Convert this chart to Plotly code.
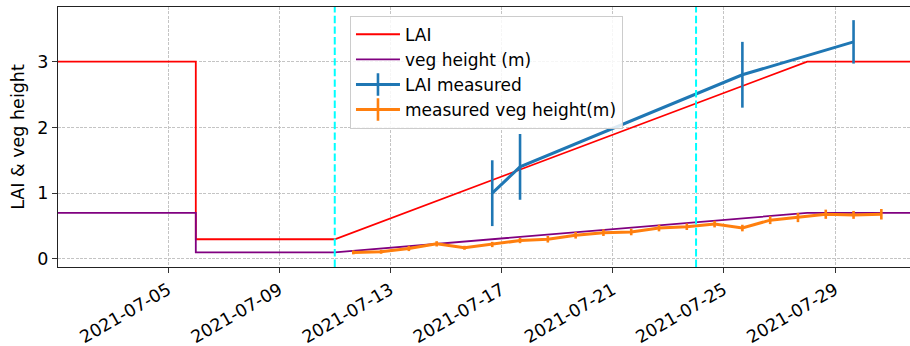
import plotly.graph_objects as go

# Modelled LAI and vegetation height (breakpoints of the hourly series)
model_dates = ["2021-07-01 01:00", "2021-07-06 00:00", "2021-07-06 00:00",
               "2021-07-11 00:00", "2021-07-28 00:00", "2021-07-31 23:00"]
lai_model = [3.0, 3.0, 0.3, 0.3, 3.0, 3.0]
veg_height_model = [0.7, 0.7, 0.1, 0.1, 0.7, 0.7]

# Field measurements of LAI
lai_dates = ["2021-07-16 16:00", "2021-07-17 16:00", "2021-07-25 16:00", "2021-07-29 16:00"]
lai_measured = [1.0, 1.4, 2.8, 3.3]
lai_err = [0.5, 0.5, 0.5, 0.33]

# Daily measured vegetation height (m)
veg_dates = ["2021-07-%02d 16:00" % d for d in range(11, 31)]
veg_measured = [0.10, 0.11, 0.16, 0.23, 0.17, 0.22, 0.28, 0.30, 0.36, 0.40,
                0.41, 0.47, 0.49, 0.53, 0.47, 0.59, 0.63, 0.68, 0.67, 0.68]
veg_err = [0.03, 0.03, 0.04, 0.04, 0.03, 0.04, 0.04, 0.05, 0.05, 0.05,
           0.05, 0.05, 0.05, 0.05, 0.05, 0.06, 0.07, 0.07, 0.06, 0.08]

# Period markers
period_dates = ["2021-07-11 00:00", "2021-07-24 00:00"]

x_range = ["2021-07-01 01:00", "2021-07-31 16:45"]
y_range = [-0.122, 3.83]

FONT = "DejaVu Sans"
BLUE = "#1f77b4"
ORANGE = "#ff7f0e"

fig = go.Figure()

fig.add_trace(go.Scatter(x=model_dates, y=lai_model, mode="lines", legendgroup="a",
                         line=dict(color="red", width=1.8), name="LAI"))
fig.add_trace(go.Scatter(x=model_dates, y=veg_height_model, mode="lines", legendgroup="b",
                         line=dict(color="purple", width=1.8), name="veg height (m)"))

fig.add_trace(go.Scatter(x=lai_dates, y=lai_measured, mode="lines",
                         line=dict(color=BLUE, width=3),
                         error_y=dict(type="data", array=lai_err, color=BLUE,
                                      thickness=2.6, width=0),
                         showlegend=False))
fig.add_trace(go.Scatter(x=veg_dates, y=veg_measured, mode="lines",
                         line=dict(color=ORANGE, width=3),
                         error_y=dict(type="data", array=veg_err, color=ORANGE,
                                      thickness=2.6, width=0),
                         showlegend=False))

# Legend entries showing a line crossed by an error bar
for grp, name, col in [("c", "LAI measured", BLUE), ("d", "measured veg height(m)", ORANGE)]:
    fig.add_trace(go.Scatter(x=[None], y=[None], mode="lines+markers", name=name,
                             legendgroup=grp,
                             line=dict(color=col, width=3),
                             marker=dict(symbol="line-ns-open", size=18,
                                         line=dict(color=col, width=2.6))))

for d in period_dates:
    fig.add_vline(x=d, line=dict(color="cyan", width=2, dash="7.4px,3.2px"),
                  layer="above")

axis_common = dict(
    showgrid=True, gridcolor="#c4c4c4", griddash="3px,1.4px", gridwidth=0.9,
    showline=True, linecolor="#222222", linewidth=1.3,
    ticks="outside", ticklen=5, tickwidth=1.2, tickcolor="#333333",
    tickfont=dict(family=FONT, size=17.5, color="black"),
    zeroline=False,
)

fig.update_xaxes(
    type="date", range=x_range, tick0="2021-07-01", dtick=4 * 86400000,
    tickformat="%Y-%m-%d", tickangle=-30, mirror=True, **axis_common,
)
fig.update_yaxes(
    range=y_range, tickvals=[0, 1, 2, 3], mirror=False,
    title=dict(text="LAI & veg height", font=dict(family=FONT, size=17.5, color="black"),
               standoff=8),
    **axis_common,
)

fig.update_layout(
    width=910, height=346,
    margin=dict(l=58, r=0, t=7, b=79),
    plot_bgcolor="white", paper_bgcolor="white",
    font=dict(family=FONT, size=17, color="black"),
    showlegend=True,
    legend=dict(x=0.3427, y=0.9665, xanchor="left", yanchor="top",
                bgcolor="rgba(255,255,255,0.85)", bordercolor="#cccccc", borderwidth=1,
                font=dict(family=FONT, size=17, color="black"),
                traceorder="grouped", tracegroupgap=0,
                itemwidth=44),
)

fig.write_html("out.html")
